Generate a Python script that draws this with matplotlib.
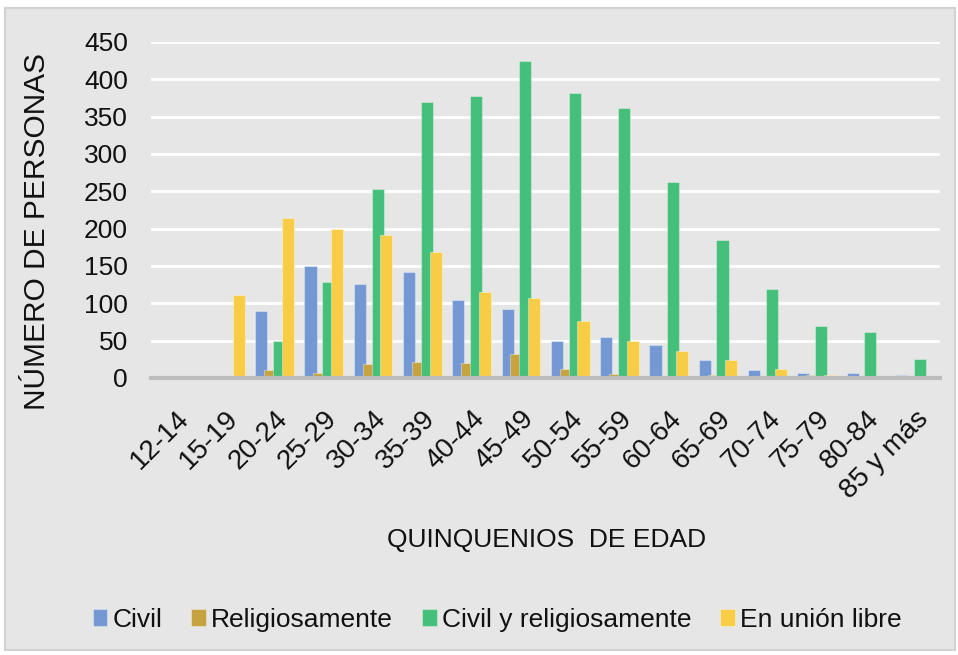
import numpy as np
import matplotlib
matplotlib.use('Agg')
import matplotlib.pyplot as plt
from matplotlib.patches import Rectangle

plt.rcParams['font.family'] = ['Liberation Sans', 'DejaVu Sans']

edades = ['12-14', '15-19', '20-24', '25-29', '30-34', '35-39', '40-44', '45-49',
          '50-54', '55-59', '60-64', '65-69', '70-74', '75-79', '80-84', '85 y más']
civil = [0, 3, 90, 150, 126, 142, 105, 92, 49, 55, 44, 24, 10, 6, 6, 4]
religioso = [0, 0, 11, 6, 18, 22, 20, 32, 12, 5, 0, 4, 2, 4, 0, 0]
civil_relig = [0, 0, 49, 129, 253, 370, 378, 424, 382, 362, 263, 185, 119, 70, 61, 26]
union_libre = [0, 111, 214, 199, 191, 169, 115, 107, 76, 49, 36, 24, 12, 4, 0, 0]

series = [('Civil', civil, '#7498d4'),
          ('Religiosamente', religioso, '#c6a33e'),
          ('Civil y religiosamente', civil_relig, '#45c07a'),
          ('En unión libre', union_libre, '#f8cd45')]

fig = plt.figure(figsize=(9.58, 6.55), dpi=100)
fig.patch.set_facecolor('white')
# panel gris de fondo
fig.patches.append(Rectangle((5/958, 5/655), 950/958, 642/655, transform=fig.transFigure,
                             facecolor='#e6e6e6', edgecolor='#d2d2d2', lw=1.5, zorder=-5))

ax = fig.add_axes([0.158, 0.423, 0.823, 0.513])
ax.set_facecolor('none')
x = np.arange(len(edades))
w = 0.245
offs = [-0.27, -0.09, 0.09, 0.27]
for (nm, vals, col), o in zip(series, offs):
    ax.bar(x + o, vals, width=w, color=col, edgecolor=(1, 1, 1, 0.35), linewidth=0.8,
           label=nm, zorder=3)

ax.set_xlim(-0.5, len(edades) - 0.5)
ax.set_ylim(0, 450)
ax.set_yticks(range(0, 451, 50))
ax.yaxis.grid(True, color='white', lw=2, zorder=0)
ax.set_axisbelow(True)
for s in ['top', 'right', 'left']:
    ax.spines[s].set_visible(False)
ax.spines['bottom'].set_color('#bdbdbd')
ax.spines['bottom'].set_linewidth(3)
ax.spines['bottom'].set_zorder(4)
ax.tick_params(axis='both', length=0, labelsize=19, colors='#111111')
ax.tick_params(axis='y', pad=17)
ax.set_xticks(x)
ax.set_xticklabels(edades, rotation=45, ha='right', rotation_mode='anchor', fontsize=20)
ax.tick_params(axis='x', pad=20)

fig.text(0.039, 0.646, 'NÚMERO DE PERSONAS', rotation=90, ha='center', va='center',
         fontsize=21.5, color='#111111')
fig.text(0.571, 0.176, 'QUINQUENIOS  DE EDAD', ha='center', va='center',
         fontsize=19, color='#111111')

leg = fig.legend(loc='center', bbox_to_anchor=(0.519, 0.054), ncol=4, frameon=False,
                 fontsize=19, handlelength=0.55, handleheight=0.6, handletextpad=0.2,
                 columnspacing=1.1)
for t in leg.get_texts():
    t.set_color('#111111')

fig.savefig('out.png', dpi=100, facecolor='white')
